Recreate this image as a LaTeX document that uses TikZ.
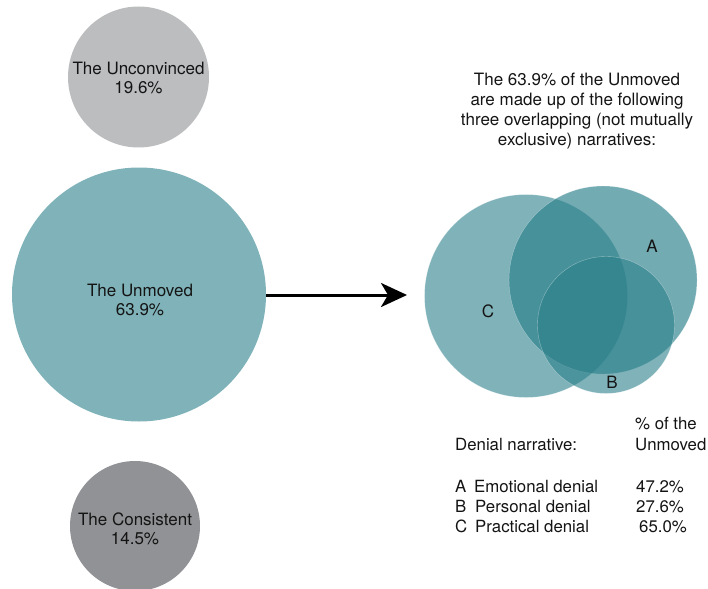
\documentclass[tikz,border=0pt]{standalone}
\usepackage{fontspec}
\setmainfont{TeX Gyre Heros}
\usetikzlibrary{arrows.meta}
\definecolor{unconv}{HTML}{BCBDBF}
\definecolor{unmoved}{HTML}{7FB3B9}
\definecolor{consist}{HTML}{919295}
\definecolor{venn}{HTML}{2A7F8A}
\begin{document}
\begin{tikzpicture}[x=1pt,y=-1pt,
  bubble/.style={circle,inner sep=0pt,draw=none},
  vennc/.style={circle,inner sep=0pt,draw=white,line width=0.4pt,draw opacity=0.4,fill=venn,fill opacity=0.6},
  lbl/.style={font=\fontsize{17}{19.5}\selectfont,align=center,inner sep=0pt,text=black!92},
  leg/.style={font=\fontsize{16.8}{19.5}\selectfont,anchor=base west,inner sep=0pt,text=black!92},
  arrowline/.style={line width=3pt,-{Stealth[length=26pt,width=24pt,inset=7pt]}}]
\useasboundingbox (0,0) rectangle (708,588);
% left bubbles
\node[bubble,fill=unconv,minimum size=141pt] (unc) at (138.5,77) {};
\node[bubble,fill=unmoved,minimum size=254pt] (unm) at (139,294.5) {};
\node[bubble,fill=consist,minimum size=130pt] (con) at (135,526) {};
\node[lbl] (tunc) at (138.5,78) {The Unconvinced\\19.6\%};
\node[lbl] (tunm) at (140,300) {The Unmoved\\63.9\%};
\node[lbl] (tcon) at (135,529) {The Consistent\\14.5\%};
% arrow
\coordinate (aend) at (407,295);
\draw[arrowline] (266,295) coordinate (astart) -- (aend);
% heading
\node[lbl,font=\fontsize{17}{20}\selectfont] (head) at (577,111) {The 63.9\% of the Unmoved\\are made up of the following\\three overlapping (not mutually\\exclusive) narratives:};
% venn
\node[vennc,minimum size=203pt] (C) at (526,296) {};
\node[vennc,minimum size=188pt,fill opacity=0.66] (A) at (603,280) {};
\node[vennc,minimum size=137pt] (B) at (606,325) {};
\node[lbl] (la) at (652,246) {A};
\node[lbl] (lc) at (488,311) {C};
\node[lbl] (lb) at (612,382) {B};
% legend
\node[leg] (pc1) at (635,429) {\% of the};
\node[leg] (pc2) at (635,450) {Unmoved};
\node[leg] (dn) at (455,450) {Denial narrative:};
\node[leg] (ka) at (455,492) {A};
\node[leg] (na) at (474,492) {Emotional denial};
\node[leg] (va) at (636,492) {47.2\%};
\node[leg] (kb) at (455,512) {B};
\node[leg] (nb) at (475,512) {Personal denial};
\node[leg] (vb) at (636,512) {27.6\%};
\node[leg] (kc) at (455,532) {C};
\node[leg] (nc) at (475,532) {Practical denial};
\node[leg] (vc) at (639,532) {65.0\%};
\end{tikzpicture}
\end{document}
